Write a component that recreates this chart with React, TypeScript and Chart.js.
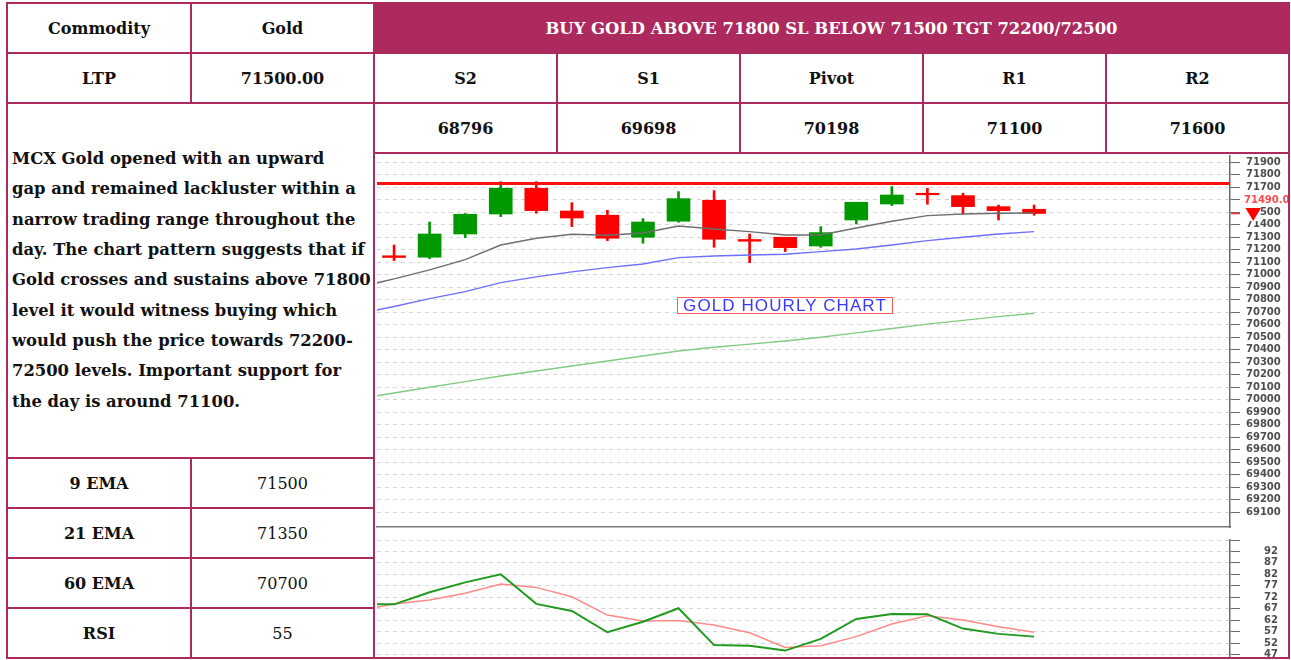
import React, { useEffect, useRef } from 'react';
import { Chart, registerables } from 'chart.js';

Chart.register(...registerables);

// ---------- table data ----------
const commodity = 'Gold';
const ltpText = '71500.00';
const headline = 'BUY GOLD ABOVE 71800 SL BELOW 71500 TGT 72200/72500';
const levelLabels = ['S2', 'S1', 'Pivot', 'R1', 'R2'];
const levelValues = ['68796', '69698', '70198', '71100', '71600'];
const indicatorLabels = ['9 EMA', '21 EMA', '60 EMA', 'RSI'];
const indicatorValues = ['71500', '71350', '70700', '55'];
const commentLines = [
  'MCX Gold opened with an upward',
  'gap and remained lackluster within a',
  'narrow trading range throughout the',
  'day. The chart pattern suggests that if',
  'Gold crosses and sustains above 71800',
  'level it would witness buying which',
  'would push the price towards 72200-',
  '72500 levels. Important support for',
  'the day is around 71100.',
];

// ---------- chart data ----------
const candleX = [0, 1, 2, 3, 4, 5, 6, 7, 8, 9, 10, 11, 12, 13, 14, 15, 16, 17, 18];
const opens = [71152, 71140, 71326, 71486, 71692, 71510, 71476, 71300, 71428, 71596, 71282, 71300, 71230, 71438, 71566, 71652, 71633, 71545, 71524];
const highs = [71238, 71422, 71490, 71745, 71745, 71577, 71516, 71449, 71665, 71673, 71326, 71300, 71385, 71580, 71705, 71692, 71652, 71558, 71558];
const lows = [71113, 71129, 71297, 71465, 71492, 71385, 71273, 71252, 71420, 71220, 71097, 71185, 71220, 71406, 71553, 71564, 71486, 71438, 71476];
const closes = [71138, 71326, 71484, 71692, 71513, 71454, 71292, 71422, 71609, 71284, 71268, 71217, 71337, 71580, 71638, 71640, 71545, 71513, 71490];

const lineX = [-1, 0, 1, 2, 3, 4, 5, 6, 7, 8, 9, 10, 11, 12, 13, 14, 15, 16, 17, 18];
const ema9 = [70900, 70967, 71039, 71121, 71238, 71292, 71324, 71316, 71334, 71390, 71366, 71345, 71318, 71318, 71374, 71428, 71473, 71486, 71492, 71494];
const ema21 = [70686, 70746, 70809, 70865, 70937, 70983, 71023, 71057, 71086, 71137, 71150, 71158, 71164, 71185, 71206, 71238, 71273, 71300, 71326, 71345];
const ema60 = [70009, 70054, 70100, 70145, 70190, 70230, 70270, 70310, 70350, 70390, 70420, 70445, 70470, 70500, 70535, 70570, 70605, 70635, 70665, 70692];
const rsi = [68.9, 68.9, 74.2, 78.5, 82.0, 69.1, 66.0, 56.7, 61.3, 67.2, 51.1, 50.8, 48.7, 53.8, 62.5, 64.7, 64.6, 58.3, 56.0, 54.8];
const rsiSignal = [66.0, 69.1, 70.8, 73.7, 77.8, 76.3, 72.2, 64.2, 61.6, 61.8, 59.9, 56.5, 50.1, 50.8, 54.8, 60.3, 63.9, 62.1, 59.1, 56.7];

const resistanceLevel = 71730;
const lastPrice = 71490;
const lastPriceLabel = '71490.0';
const priceTicks = [71900, 71800, 71700, 71600, 71500, 71400, 71300, 71200, 71100, 71000, 70900, 70800, 70700, 70600, 70500, 70400, 70300, 70200, 70100, 70000, 69900, 69800, 69700, 69600, 69500, 69400, 69300, 69200, 69100];
const hiddenPriceTick = 71600; // covered by the last-price label
const rsiTicks = [97, 92, 87, 82, 77, 72, 67, 62, 57, 52, 47];
const chartTitle = 'GOLD HOURLY CHART';

const X_MIN = -0.48;
const X_MAX = 23.51;

const BORDER = '#AD2A5F';
const UP = '#009a00';
const DOWN = '#ff0000';
const TICK_FONT = { family: 'DejaVu Sans', size: 10, weight: 'bold' as const };

const cols = [7, 191, 374, 557, 740, 923, 1106, 1289];
const rows = [3, 53, 103, 153, 458, 508, 558, 608, 658];

function Cell(props: { x0: number; x1: number; y0: number; y1: number; bg?: string; style?: React.CSSProperties; children?: React.ReactNode }) {
  const { x0, x1, y0, y1, bg, style, children } = props;
  return (
    <div
      style={{
        position: 'absolute',
        left: x0 - 1,
        top: y0 - 1,
        width: x1 - x0 + 2,
        height: y1 - y0 + 2,
        border: `2px solid ${BORDER}`,
        boxSizing: 'border-box',
        background: bg || '#ffffff',
        display: 'flex',
        alignItems: 'center',
        justifyContent: 'center',
        fontWeight: 'bold',
        fontSize: 16,
        color: '#111',
        whiteSpace: 'nowrap',
        ...style,
      }}
    >
      {children}
    </div>
  );
}

const ltpPlugin = {
  id: 'ltpMarker',
  afterDraw(chart: any) {
    const { ctx, chartArea, scales } = chart;
    const y = scales.y;
    const py = y.getPixelForValue(lastPrice);
    const x0 = chartArea.right;
    ctx.save();
    ctx.strokeStyle = '#ff3030';
    ctx.lineWidth = 1.5;
    ctx.beginPath();
    ctx.moveTo(x0 + 1, py);
    ctx.lineTo(x0 + 10, py);
    ctx.stroke();
    const tx = x0 + 16;
    ctx.fillStyle = '#ffffff';
    ctx.fillRect(tx - 2, py - 8.5, 16, 16);
    ctx.fillStyle = '#ff0000';
    ctx.beginPath();
    ctx.moveTo(tx - 0.5, py - 5.5);
    ctx.lineTo(tx + 15, py - 5.5);
    ctx.lineTo(tx + 7.2, py + 7.5);
    ctx.closePath();
    ctx.fill();
    ctx.font = 'bold 10px "DejaVu Sans"';
    ctx.fillStyle = '#ff4a4a';
    ctx.textAlign = 'left';
    ctx.textBaseline = 'middle';
    ctx.fillText(lastPriceLabel, x0 + 14, py - 13.5);
    ctx.restore();
  },
};

function PriceChart() {
  const ref = useRef<HTMLCanvasElement>(null);
  useEffect(() => {
    if (!ref.current) return;
    const colors = candleX.map((_, i) => (closes[i] >= opens[i] ? UP : DOWN));
    const lineDs = (data: number[], color: string, order: number, width = 1.5) => ({
      type: 'line' as const,
      data: lineX.map((x, i) => ({ x, y: data[i] })),
      borderColor: color,
      borderWidth: width,
      pointRadius: 0,
      tension: 0,
      clip: 0,
      order,
    });
    const chart = new Chart(ref.current, {
      type: 'bar',
      data: {
        datasets: [
          {
            type: 'line',
            data: [
              { x: X_MIN, y: resistanceLevel },
              { x: X_MAX, y: resistanceLevel },
            ],
            borderColor: '#ff1010',
            borderWidth: 3,
            pointRadius: 0,
            clip: 0,
            order: 0,
          } as any,
          lineDs(ema9, '#6e6e6e', 1),
          lineDs(ema21, '#6f6fff', 1),
          lineDs(ema60, '#80cc80', 1),
          {
            type: 'bar',
            data: candleX.map((x, i) => ({ x, y: [opens[i], closes[i]] })),
            backgroundColor: colors,
            barThickness: 23,
            grouped: false,
            order: 2,
          } as any,
          {
            type: 'bar',
            data: candleX.map((x, i) => ({ x, y: [lows[i], highs[i]] })),
            backgroundColor: colors,
            barThickness: 2,
            grouped: false,
            order: 3,
          } as any,
        ],
      },
      options: {
        animation: false,
        responsive: false,
        devicePixelRatio: 1,
        events: [],
        layout: { padding: { left: 1, top: 0, right: 0, bottom: 2 } },
        plugins: { legend: { display: false }, tooltip: { enabled: false } },
        scales: {
          x: {
            type: 'linear',
            min: X_MIN,
            max: X_MAX,
            offset: false,
            grid: { display: false, drawTicks: false, tickLength: 0 },
            ticks: { display: false, padding: 0 },
            border: { display: true, color: '#7a7a7a', width: 1.5 },
          },
          y: {
            type: 'linear',
            position: 'right',
            min: 68982,
            max: 71958,
            afterBuildTicks: (s: any) => {
              s.ticks = priceTicks.map((v) => ({ value: v }));
            },
            afterFit: (s: any) => {
              s.width = 58;
              s.paddingTop = 0;
              s.paddingBottom = 0;
            },
            ticks: {
              autoSkip: false,
              padding: 6,
              font: TICK_FONT,
              color: '#4e4e4e',
              callback: (v: any) => (v === hiddenPriceTick ? '' : String(v)),
            },
            grid: {
              color: '#d6d6d6',
              lineWidth: 1,
              tickLength: 10,
              tickColor: '#6a6a6a',
              tickWidth: 1,
              tickBorderDash: [],
            },
            border: { display: true, color: '#6a6a6a', width: 1.5, dash: [4, 4] },
          },
        },
      } as any,
      plugins: [ltpPlugin],
    });
    return () => chart.destroy();
  }, []);
  return <canvas ref={ref} width={912} height={374} style={{ position: 'absolute', left: 376, top: 155, width: 912, height: 374 }} />;
}

function RsiChart() {
  const ref = useRef<HTMLCanvasElement>(null);
  useEffect(() => {
    if (!ref.current) return;
    const chart = new Chart(ref.current, {
      type: 'line',
      data: {
        datasets: [
          {
            data: lineX.map((x, i) => ({ x, y: rsi[i] })),
            borderColor: '#1f9a1f',
            borderWidth: 2,
            pointRadius: 0,
            tension: 0,
            clip: 0,
            order: 0,
          },
          {
            data: lineX.map((x, i) => ({ x, y: rsiSignal[i] })),
            borderColor: '#ff8a8a',
            borderWidth: 1.5,
            pointRadius: 0,
            tension: 0,
            clip: 0,
            order: 1,
          },
        ],
      },
      options: {
        animation: false,
        responsive: false,
        devicePixelRatio: 1,
        events: [],
        layout: { padding: { left: 1, top: 4, right: 0, bottom: 0 } },
        plugins: { legend: { display: false }, tooltip: { enabled: false } },
        scales: {
          x: { type: 'linear', min: X_MIN, max: X_MAX, display: false },
          y: {
            type: 'linear',
            position: 'right',
            min: 45.9,
            max: 97,
            afterBuildTicks: (s: any) => {
              s.ticks = rsiTicks.map((v) => ({ value: v }));
            },
            afterFit: (s: any) => {
              s.width = 58;
              s.paddingTop = 0;
              s.paddingBottom = 0;
            },
            ticks: {
              autoSkip: false,
              padding: 24,
              font: TICK_FONT,
              color: '#4e4e4e',
              callback: (v: any) => (v === rsiTicks[0] ? '' : String(v)),
            },
            grid: {
              color: '#d6d6d6',
              lineWidth: 1,
              tickLength: 10,
              tickColor: '#6a6a6a',
              tickWidth: 1,
              tickBorderDash: [],
            },
            border: { display: true, color: '#6a6a6a', width: 1.5, dash: [4, 4] },
          },
        },
      } as any,
    });
    return () => chart.destroy();
  }, []);
  return <canvas ref={ref} width={912} height={121} style={{ position: 'absolute', left: 376, top: 536, width: 912, height: 121 }} />;
}

export default function App() {
  return (
    <div
      style={{
        position: 'absolute',
        left: 0,
        top: 0,
        width: 1291,
        height: 660,
        background: '#ffffff',
        fontFamily: '"DejaVu Serif", serif',
        overflow: 'hidden',
      }}
    >
      <Cell x0={cols[0]} x1={cols[1]} y0={rows[0]} y1={rows[1]}>Commodity</Cell>
      <Cell x0={cols[1]} x1={cols[2]} y0={rows[0]} y1={rows[1]}>{commodity}</Cell>
      <Cell x0={cols[2]} x1={cols[7]} y0={rows[0]} y1={rows[1]} bg={BORDER} style={{ color: '#ffffff', fontSize: 16.4 }}>{headline}</Cell>

      <Cell x0={cols[0]} x1={cols[1]} y0={rows[1]} y1={rows[2]}>LTP</Cell>
      <Cell x0={cols[1]} x1={cols[2]} y0={rows[1]} y1={rows[2]}>{ltpText}</Cell>
      {levelLabels.map((l, i) => (
        <Cell key={'l' + i} x0={cols[2 + i]} x1={cols[3 + i]} y0={rows[1]} y1={rows[2]}>{l}</Cell>
      ))}
      {levelValues.map((v, i) => (
        <Cell key={'v' + i} x0={cols[2 + i]} x1={cols[3 + i]} y0={rows[2]} y1={rows[3]}>{v}</Cell>
      ))}

      <Cell x0={cols[0]} x1={cols[2]} y0={rows[2]} y1={rows[4]} style={{ justifyContent: 'flex-start', paddingLeft: 4 }}>
        <div style={{ lineHeight: '30.3px', fontSize: 16.4 }}>
          {commentLines.map((t, i) => (
            <div key={i}>{t}</div>
          ))}
        </div>
      </Cell>

      {indicatorLabels.map((l, i) => (
        <Cell key={'il' + i} x0={cols[0]} x1={cols[1]} y0={rows[4 + i]} y1={rows[5 + i]}>{l}</Cell>
      ))}
      {indicatorValues.map((v, i) => (
        <Cell key={'iv' + i} x0={cols[1]} x1={cols[2]} y0={rows[4 + i]} y1={rows[5 + i]} style={{ fontWeight: 'normal' }}>{v}</Cell>
      ))}

      <Cell x0={cols[2]} x1={cols[7]} y0={rows[3]} y1={rows[8]} />
      <PriceChart />
      <RsiChart />
      <div
        style={{
          position: 'absolute',
          left: 677,
          top: 297,
          width: 216,
          height: 17,
          boxSizing: 'border-box',
          border: '1px solid #ff5a5a',
          background: '#ffffff',
          color: '#3a3aff',
          fontFamily: '"Liberation Sans", Arial, sans-serif',
          fontSize: 17,
          letterSpacing: 1.1,
          lineHeight: '15px',
          textAlign: 'center',
          whiteSpace: 'nowrap',
        }}
      >
        {chartTitle}
      </div>
    </div>
  );
}
